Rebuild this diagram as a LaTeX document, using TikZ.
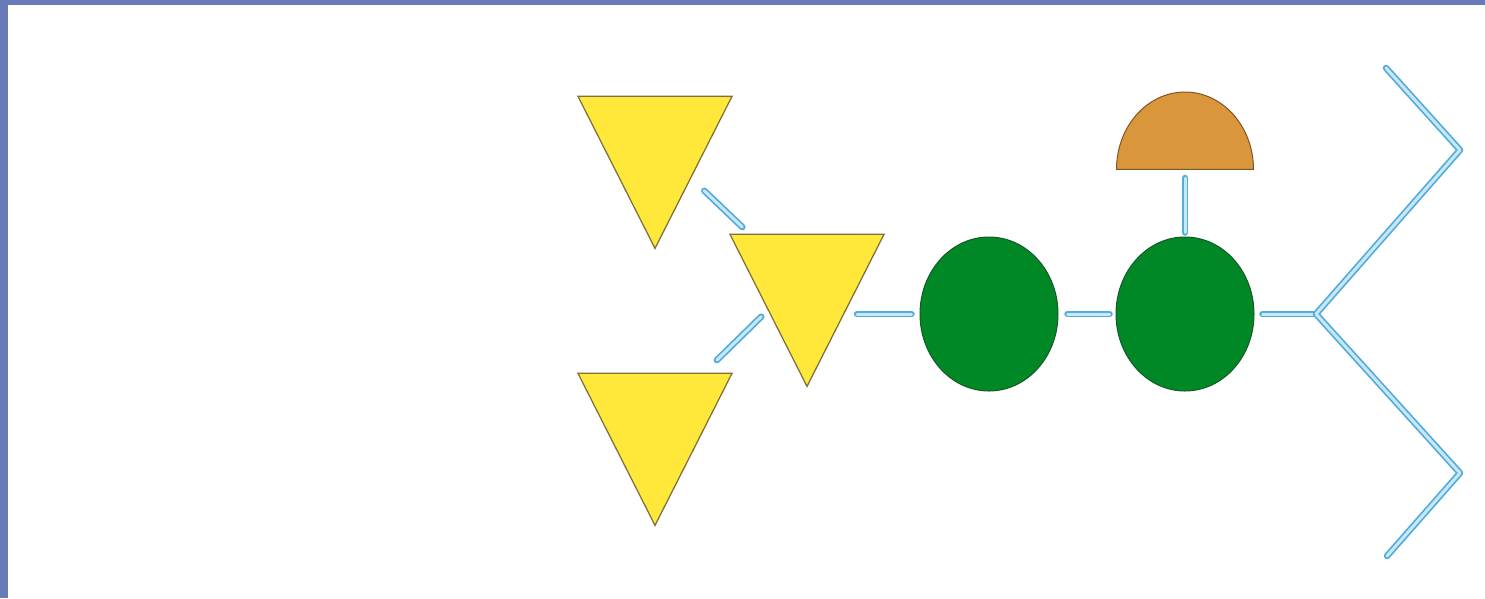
\documentclass[tikz,border=0pt]{standalone}
\usetikzlibrary{shapes.geometric}

\definecolor{framebl}{RGB}{104,122,183}
\definecolor{trifill}{RGB}{255,232,58}
\definecolor{tridraw}{RGB}{125,112,60}
\definecolor{discfill}{RGB}{0,136,38}
\definecolor{discdraw}{RGB}{20,90,40}
\definecolor{capfill}{RGB}{217,150,58}
\definecolor{capdraw}{RGB}{130,85,40}
\definecolor{linkout}{RGB}{84,172,218}
\definecolor{linkin}{RGB}{200,232,248}

\begin{document}
\begin{tikzpicture}[
  x=0.2mm, y=-0.2mm,
  tri/.style={isosceles triangle, isosceles triangle stretches, shape border rotate=270,
              minimum width=30.8mm, minimum height=30.4mm, inner sep=0pt,
              fill=trifill, draw=tridraw, line width=0.25mm},
  disc/.style={ellipse, minimum width=27.6mm, minimum height=30.8mm, inner sep=0pt,
               fill=discfill, draw=discdraw, line width=0.2mm},
  halfdisc/.style={semicircle, minimum width=27.4mm, inner sep=0pt, yscale=1.13,
              fill=capfill, draw=capdraw, line width=0.2mm},
  link/.style={draw=linkout, double=linkin, line width=0.35mm, double distance=0.6mm,
               line cap=round, line join=round},
]
\useasboundingbox (0,0) rectangle (1485,598);

% ---- frame ------------------------------------------------------------------
\fill[framebl] (0,0) rectangle (1485,5);
\fill[framebl] (0,0) rectangle (8,598);

% ---- residues ----------------------------------------------------------------
\node[tri, anchor=apex] (tri1) at (655,250) {};
\node[tri, anchor=apex] (tri2) at (807,388) {};
\node[tri, anchor=apex] (tri3) at (655,527) {};
\node[disc] (disc1) at (989,314) {};
\node[disc] (disc2) at (1185,314) {};
\node[halfdisc, anchor=chord center] (top) at (1185,170) {};

% ---- fork at the reducing end ------------------------------------------------
\coordinate (fork) at (1316,314);
\coordinate (upbend) at (1460,150);
\coordinate (uptip) at (1386,68);
\coordinate (lobend) at (1460,473);
\coordinate (lotip) at (1387,556);

% ---- links ---------------------------------------------------------------------
\draw[link, shorten <=3.6mm, shorten >=15.8mm] (tri1) -- ([xshift=-1.5mm]tri2.center);
\draw[link, shorten <=3.6mm, shorten >=10mm] (tri3) -- ([xshift=-2mm]tri2.center);
\draw[link, shorten <=10mm, shorten >=1.6mm] (tri2 |- disc1) -- (disc1);
\draw[link, shorten <=1.8mm, shorten >=1.2mm] (disc1) -- (disc2);
\draw[link, shorten <=1.6mm, shorten >=0.8mm] (top.chord center) -- (disc2);
\draw[link, shorten <=1.6mm] (disc2) -- (fork);
\draw[link] (uptip) -- (upbend) -- (fork) -- (lobend) -- (lotip);

\end{tikzpicture}
\end{document}
